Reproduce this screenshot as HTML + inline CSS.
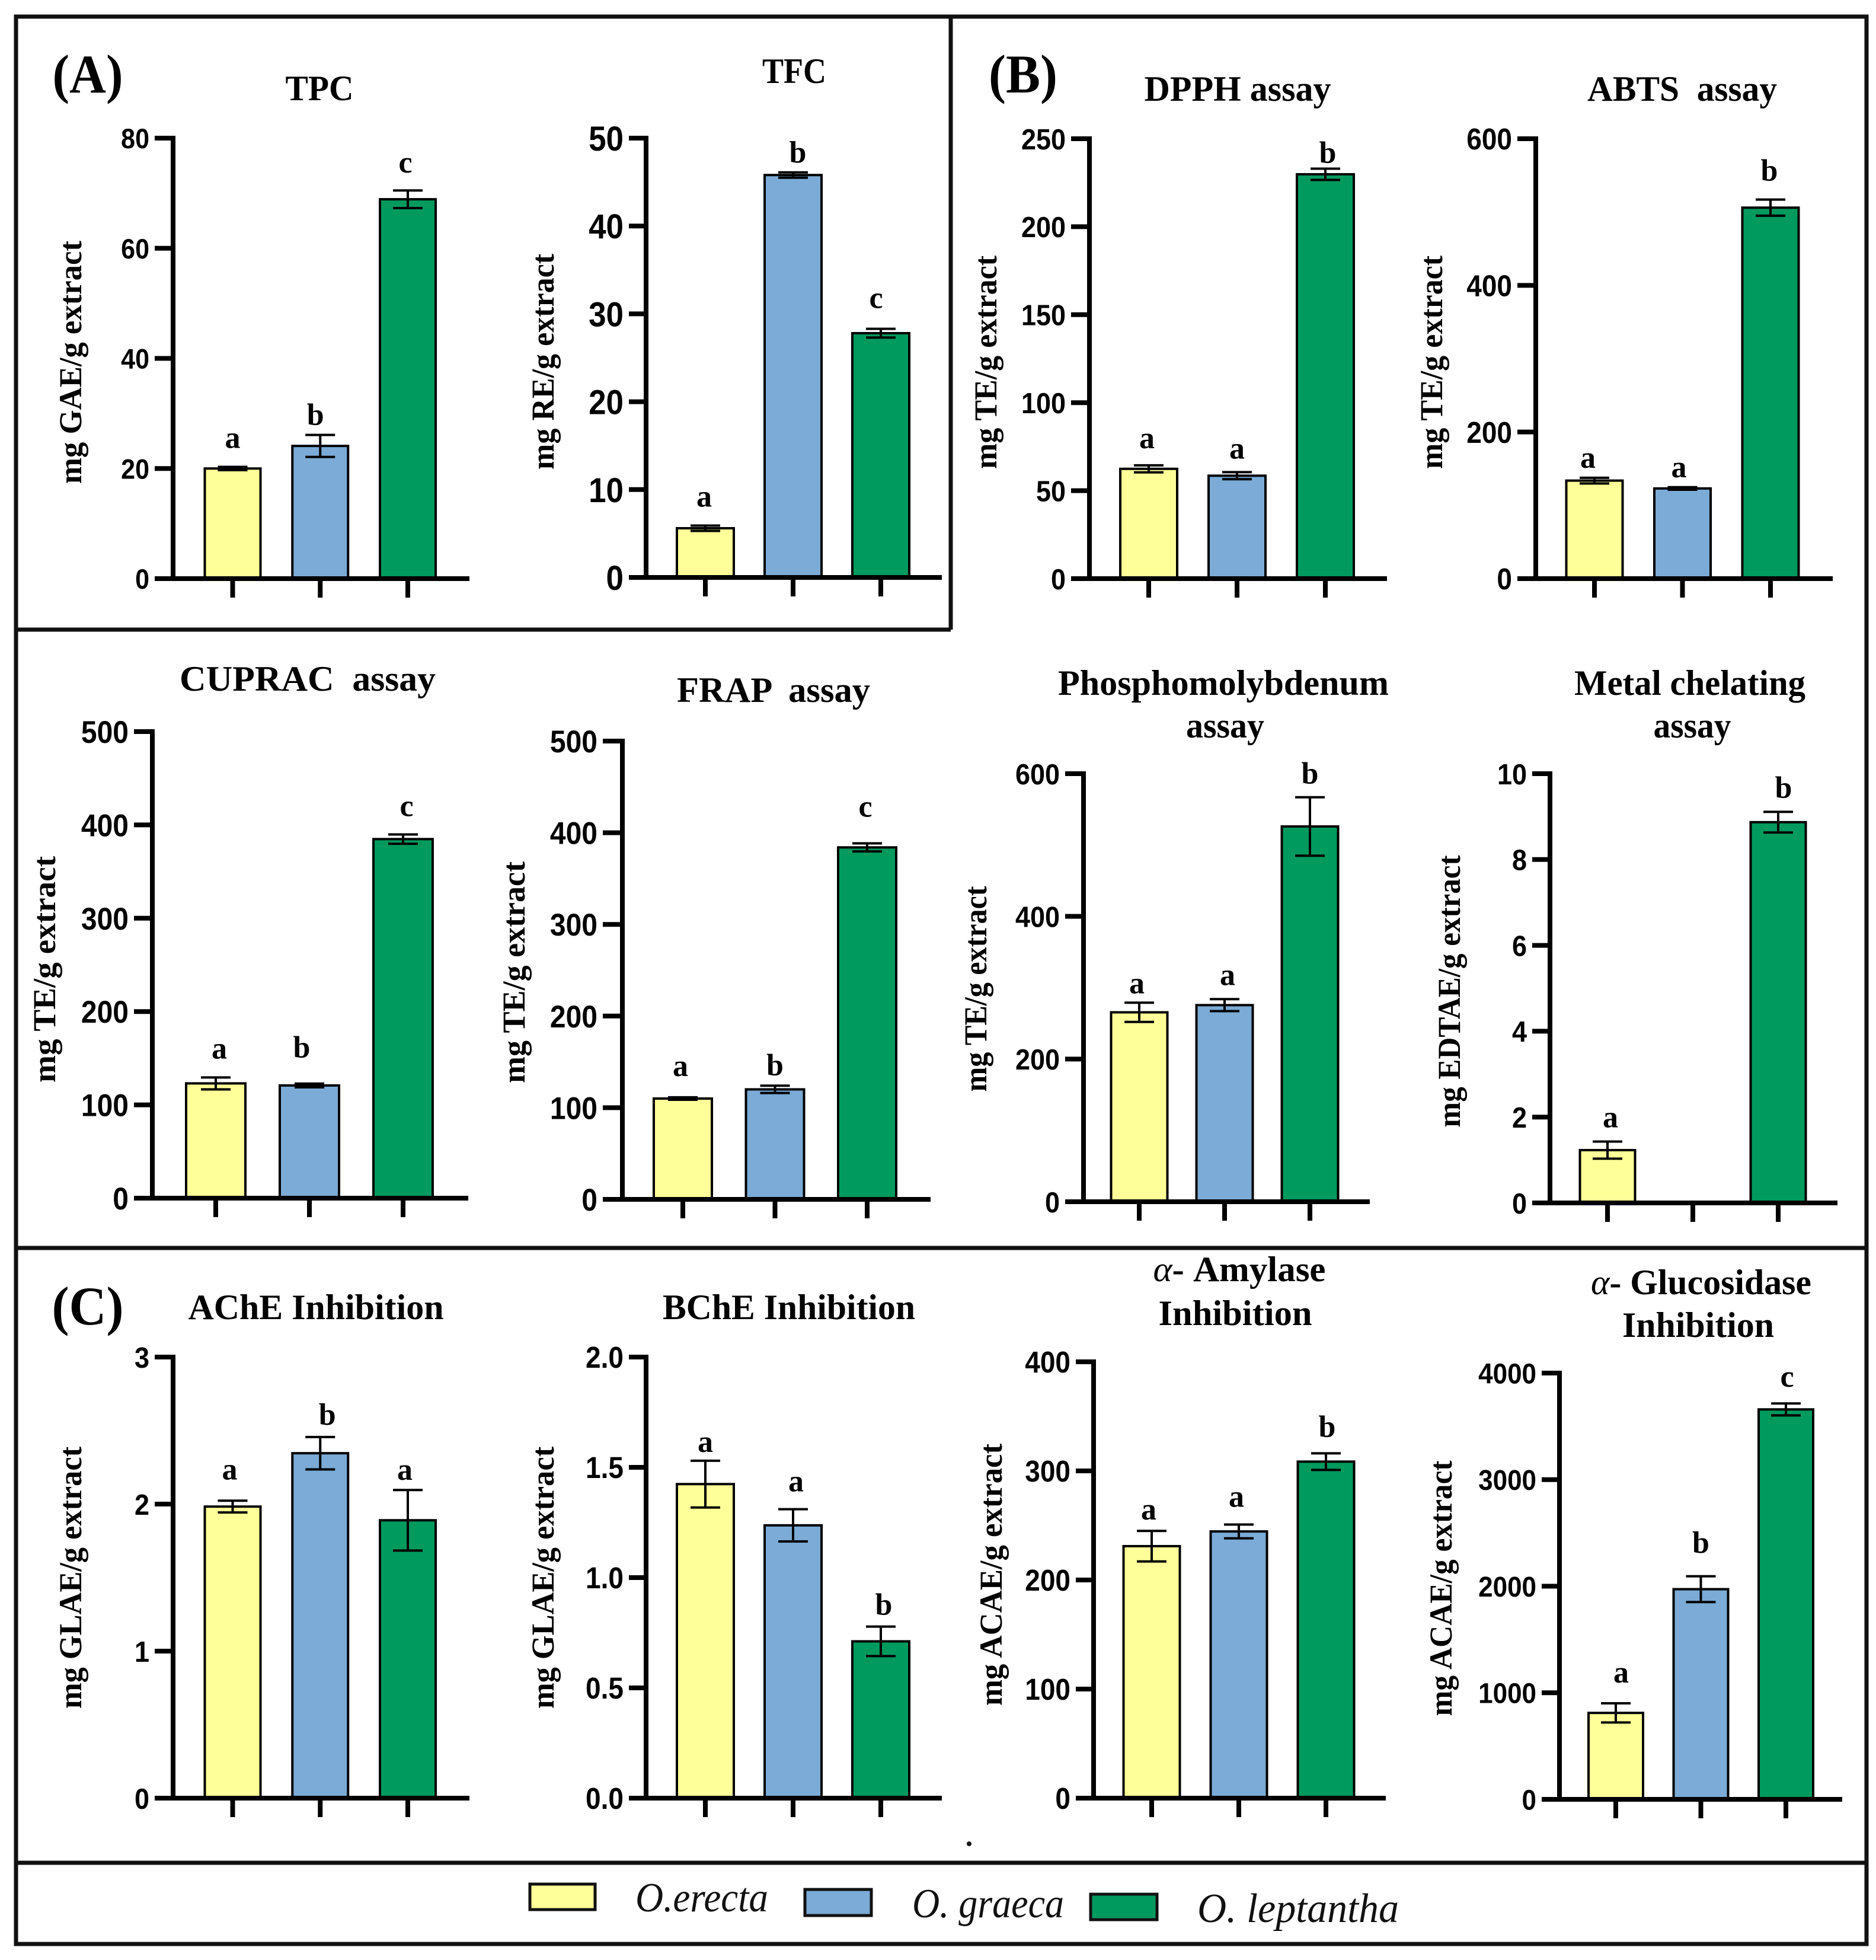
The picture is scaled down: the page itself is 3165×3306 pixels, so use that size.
<!DOCTYPE html>
<html lang="en">
<head>
<meta charset="utf-8">
<title>Antioxidant and enzyme inhibition bar charts</title>
<style>
html,body{margin:0;padding:0;background:#fff;}
svg{display:block;}
text{white-space:pre;fill:#000;}
.tick{font-family:"Liberation Sans",sans-serif;font-weight:bold;}
.serif{font-family:"Liberation Serif",serif;font-weight:bold;}
.legend{font-family:"Liberation Serif",serif;font-style:italic;font-size:70px;fill:#111;}
</style>
</head>
<body>
<svg id="figure" xmlns="http://www.w3.org/2000/svg" width="3165" height="3306" viewBox="0 0 3165 3306">
  <rect x="0" y="0" width="3165" height="3306" fill="#fff"/>
  <g stroke="#111" stroke-width="7" fill="none">
    <rect x="27" y="28" width="3122" height="3251"/>
    <line x1="1604" y1="28" x2="1604" y2="1062"/>
    <line x1="27" y1="1062" x2="1604" y2="1062"/>
    <line x1="27" y1="2105" x2="3149" y2="2105"/>
    <line x1="27" y1="3142" x2="3149" y2="3142"/>
  </g>
  <text class="serif" x="148" y="156" font-size="92" text-anchor="middle" textLength="119" lengthAdjust="spacingAndGlyphs">(A)</text>
  <text class="serif" x="1726" y="156" font-size="92" text-anchor="middle" textLength="116" lengthAdjust="spacingAndGlyphs">(B)</text>
  <text class="serif" x="148" y="2234" font-size="92" text-anchor="middle" textLength="121" lengthAdjust="spacingAndGlyphs">(C)</text>
  <circle cx="1635" cy="3110" r="4" fill="#111"/>
  <g id="charts"></g>
  <g>
    <g>
      <rect x="894" y="3178" width="110" height="43" fill="#FFFF99" stroke="#111" stroke-width="5"/>
      <text class="legend" x="1072" y="3224" textLength="224" lengthAdjust="spacingAndGlyphs">O.erecta</text>
    </g>
    <g>
      <rect x="1358" y="3187" width="112" height="44" fill="#7BABD6" stroke="#111" stroke-width="5"/>
      <text class="legend" x="1539" y="3234" textLength="256" lengthAdjust="spacingAndGlyphs">O. graeca</text>
    </g>
    <g>
      <rect x="1840" y="3195" width="112" height="43" fill="#009A5E" stroke="#111" stroke-width="5"/>
      <text class="legend" x="2020" y="3242" textLength="340" lengthAdjust="spacingAndGlyphs">O. leptantha</text>
    </g>
  </g>
</svg>
<script>
const species = ['O.erecta', 'O. graeca', 'O. leptantha'];

const tpcValues = [20, 24.1, 68.9];
const tpcErrors = [0.3, 2, 1.6];
const tpcLetters = ['a', 'b', 'c'];
const tpcTicks = ['0', '20', '40', '60', '80'];

const tfcValues = [5.6, 45.8, 27.8];
const tfcErrors = [0.3, 0.3, 0.5];
const tfcLetters = ['a', 'b', 'c'];
const tfcTicks = ['0', '10', '20', '30', '40', '50'];

const dpphValues = [62.4, 58.5, 229.8];
const dpphErrors = [2, 2, 3.2];
const dpphLetters = ['a', 'a', 'b'];
const dpphTicks = ['0', '50', '100', '150', '200', '250'];

const abtsValues = [133.7, 123, 506];
const abtsErrors = [3.9, 1.7, 11];
const abtsLetters = ['a', 'a', 'b'];
const abtsTicks = ['0', '200', '400', '600'];

const cupracValues = [123, 120.8, 384.8];
const cupracErrors = [6.4, 2, 5];
const cupracLetters = ['a', 'b', 'c'];
const cupracTicks = ['0', '100', '200', '300', '400', '500'];

const frapValues = [110, 120, 384];
const frapErrors = [1.3, 4, 4.4];
const frapLetters = ['a', 'b', 'c'];
const frapTicks = ['0', '100', '200', '300', '400', '500'];

const phosphoValues = [265.5, 275.6, 526];
const phosphoErrors = [13.5, 8.4, 41];
const phosphoLetters = ['a', 'a', 'b'];
const phosphoTicks = ['0', '200', '400', '600'];

const metalValues = [1.23, 0, 8.87];
const metalErrors = [0.2, 0, 0.24];
const metalLetters = ['a', '', 'b'];
const metalTicks = ['0', '2', '4', '6', '8', '10'];

const acheValues = [1.983, 2.346, 1.89];
const acheErrors = [0.04, 0.11, 0.206];
const acheLetters = ['a', 'b', 'a'];
const acheTicks = ['0', '1', '2', '3'];

const bcheValues = [1.424, 1.237, 0.711];
const bcheErrors = [0.106, 0.073, 0.067];
const bcheLetters = ['a', 'a', 'b'];
const bcheTicks = ['0.0', '0.5', '1.0', '1.5', '2.0'];

const amylaseValues = [231, 244.5, 308.5];
const amylaseErrors = [14, 6.3, 7.6];
const amylaseLetters = ['a', 'a', 'b'];
const amylaseTicks = ['0', '100', '200', '300', '400'];

const glucoValues = [811, 1972, 3659];
const glucoErrors = [90, 121, 56];
const glucoLetters = ['a', 'b', 'c'];
const glucoTicks = ['0', '1000', '2000', '3000', '4000'];

const barColors = ['#FFFF99', '#7BABD6', '#009A5E'];

const charts = [
  {id:'tpc', values:tpcValues, errors:tpcErrors, letters:tpcLetters, ticks:tpcTicks,
   ax:292, top:233, base:976, left:261, end:792, c0:392.5, step:147.75, bw:94, ts:43,
   ylabel:'mg GAE/g extract', ylx:137, yly:611, yll:410,
   titles:[{t:'TPC', x:539, y:169, l:115}], nudge:[[0,32],[-8,17],[-4,30]]},
  {id:'tfc', values:tfcValues, errors:tfcErrors, letters:tfcLetters, ticks:tfcTicks,
   ax:1090, top:233, base:974, left:1061, end:1589, c0:1190, step:148, bw:96, ts:53,
   ylabel:'mg RE/g extract', ylx:934, yly:610, yll:364,
   titles:[{t:'TFC', x:1340, y:140, l:108}], nudge:[[-2,32],[8,17],[-8,35]]},
  {id:'dpph', values:dpphValues, errors:dpphErrors, letters:dpphLetters, ticks:dpphTicks,
   ax:1838, top:234, base:976, left:1807, end:2340, c0:1938, step:149, bw:96, ts:45,
   ylabel:'mg TE/g extract', ylx:1681, yly:611, yll:360,
   titles:[{t:'DPPH assay', x:2088, y:170, l:315}], nudge:[[-3,29],[0,23],[4,10]]},
  {id:'abts', values:abtsValues, errors:abtsErrors, letters:abtsLetters, ticks:abtsTicks,
   ax:2591, top:234, base:976, left:2560, end:3092, c0:2690, step:148.5, bw:95, ts:46,
   ylabel:'mg TE/g extract', ylx:2433, yly:611, yll:360,
   titles:[{t:'ABTS  assay', x:2838, y:170, l:320}], nudge:[[-11,17],[-6,17],[-2,32]]},
  {id:'cuprac', values:cupracValues, errors:cupracErrors, letters:cupracLetters, ticks:cupracTicks,
   ax:257, top:1234, base:2021, left:226, end:790, c0:364, step:158, bw:100, ts:48,
   ylabel:'mg TE/g extract', ylx:93, yly:1635, yll:382,
   titles:[{t:'CUPRAC  assay', x:519, y:1165, l:432}], nudge:[[6,32],[-13,44],[6,31]]},
  {id:'frap', values:frapValues, errors:frapErrors, letters:frapLetters, ticks:frapTicks,
   ax:1050, top:1250, base:2023, left:1017, end:1570, c0:1152, step:155.5, bw:98, ts:48,
   ylabel:'mg TE/g extract', ylx:885, yly:1640, yll:374,
   titles:[{t:'FRAP  assay', x:1305, y:1184, l:326}], nudge:[[-4,36],[0,18],[-3,45]]},
  {id:'phosphomolybdenum', values:phosphoValues, errors:phosphoErrors, letters:phosphoLetters, ticks:phosphoTicks,
   ax:1828, top:1305, base:2027, left:1797, end:2311, c0:1922, step:144, bw:95, ts:45,
   ylabel:'mg TE/g extract', ylx:1664, yly:1668, yll:347,
   titles:[{t:'Phosphomolybdenum', x:2064, y:1172, l:558},{t:'assay', x:2067, y:1244, l:132}], nudge:[[-4,16],[5,24],[0,23]]},
  {id:'metal-chelating', values:metalValues, errors:metalErrors, letters:metalLetters, ticks:metalTicks,
   ax:2615, top:1305, base:2029, left:2585, end:3100, c0:2712, step:144, bw:93, ts:45,
   ylabel:'mg EDTAE/g extract', ylx:2463, yly:1672, yll:459,
   titles:[{t:'Metal chelating', x:2851, y:1172, l:390},{t:'assay', x:2855, y:1244, l:131}], nudge:[[5,24],[0,24],[9,24]]},
  {id:'ache', values:acheValues, errors:acheErrors, letters:acheLetters, ticks:acheTicks,
   ax:292, top:2289, base:3033, left:261, end:792, c0:392.5, step:147.75, bw:94, ts:45,
   ylabel:'mg GLAE/g extract', ylx:137, yly:2661, yll:442,
   titles:[{t:'AChE Inhibition', x:533, y:2225, l:431}], nudge:[[-5,36],[12,21],[-5,17]]},
  {id:'bche', values:bcheValues, errors:bcheErrors, letters:bcheLetters, ticks:bcheTicks,
   ax:1090, top:2289, base:3033, left:1061, end:1589, c0:1190, step:148, bw:96, ts:46,
   ylabel:'mg GLAE/g extract', ylx:934, yly:2661, yll:442,
   titles:[{t:'BChE Inhibition', x:1331, y:2225, l:426}], nudge:[[0,15],[5,30],[5,20]]},
  {id:'amylase', values:amylaseValues, errors:amylaseErrors, letters:amylaseLetters, ticks:amylaseTicks,
   ax:1845, top:2297, base:3033, left:1815, end:2338, c0:1943, step:147, bw:95, ts:46,
   ylabel:'mg ACAE/g extract', ylx:1690, yly:2656, yll:442,
   titles:[{t:'- Amylase', alpha:true, x:2091, y:2161, l:291},{t:'Inhibition', x:2084, y:2235, l:259}], nudge:[[-5,19],[-4,30],[2,28]]},
  {id:'glucosidase', values:glucoValues, errors:glucoErrors, letters:glucoLetters, ticks:glucoTicks,
   ax:2631, top:2316, base:3035, left:2601, end:3108, c0:2726, step:143.5, bw:92, ts:44,
   ylabel:'mg ACAE/g extract', ylx:2449, yly:2679, yll:431,
   titles:[{t:'- Glucosidase', alpha:true, x:2870, y:2183, l:372},{t:'Inhibition', x:2865, y:2255, l:256}], nudge:[[9,35],[0,40],[2,28]]}
];

const NS = 'http://www.w3.org/2000/svg';
const root = document.getElementById('charts');

function svgEl(tag, parent) {
  const el = document.createElementNS(NS, tag);
  parent.appendChild(el);
  return el;
}
function setLine(el, x1, y1, x2, y2, w) {
  el.setAttribute('x1', x1);
  el.setAttribute('y1', y1);
  el.setAttribute('x2', x2);
  el.setAttribute('y2', y2);
  el.setAttribute('stroke', '#000');
  el.setAttribute('stroke-width', w);
}
function tickWidth(label, size) {
  let w = 0;
  for (const ch of label) {
    w += ch === '.' ? 0.278 : 0.556;
  }
  return w * size;
}

charts.forEach(function (ch) {
  const yMax = parseFloat(ch.ticks[ch.ticks.length - 1]);
  const yScale = function (v) { return ch.base - (v / yMax) * (ch.base - ch.top); };
  const xScale = function (i) { return ch.c0 + i * ch.step; };

  const g = svgEl('g', root);
  
  

  ch.titles.forEach(function (tt, ti) {
    const t = svgEl('text', g);
    
    
    t.setAttribute('class', 'serif');
    t.setAttribute('x', tt.x);
    t.setAttribute('y', tt.y);
    t.setAttribute('font-size', 60);
    t.setAttribute('text-anchor', 'middle');
    t.setAttribute('textLength', tt.l);
    t.setAttribute('lengthAdjust', 'spacingAndGlyphs');
    if (tt.alpha) {
      const a = svgEl('tspan', t);
      a.setAttribute('font-style', 'italic');
      a.setAttribute('font-weight', 'normal');
      a.textContent = 'α';
    }
    t.appendChild(document.createTextNode(tt.t));
  });

  const yl = svgEl('text', g);
  
  
  yl.setAttribute('class', 'serif');
  yl.setAttribute('x', ch.ylx);
  yl.setAttribute('y', ch.yly);
  yl.setAttribute('font-size', 54);
  yl.setAttribute('text-anchor', 'middle');
  yl.setAttribute('textLength', ch.yll);
  yl.setAttribute('lengthAdjust', 'spacingAndGlyphs');
  yl.setAttribute('transform', 'rotate(-90 ' + ch.ylx + ' ' + ch.yly + ')');
  yl.textContent = ch.ylabel;

  species.forEach(function (sp, i) {
    const v = ch.values[i];
    const e = ch.errors[i];
    const x = xScale(i);
    const y = yScale(v);
    if (v > 0) {
      const bar = svgEl('rect', g);
      
      
      bar.setAttribute('x', x - ch.bw / 2);
      bar.setAttribute('y', y);
      bar.setAttribute('width', ch.bw);
      bar.setAttribute('height', ch.base - y);
      bar.setAttribute('fill', barColors[i]);
      bar.setAttribute('stroke', '#000');
      bar.setAttribute('stroke-width', 4);

      const stem = svgEl('line', g);
      
      
      setLine(stem, x, yScale(v + e), x, yScale(v - e), 4);

      const capTop = svgEl('line', g);
      
      
      setLine(capTop, x - 25, yScale(v + e), x + 25, yScale(v + e), 4);

      const capBot = svgEl('line', g);
      
      
      setLine(capBot, x - 25, yScale(v - e), x + 25, yScale(v - e), 4);
    }
    if (ch.letters[i]) {
      const lt = svgEl('text', g);
      
      
      lt.setAttribute('class', 'serif');
      lt.setAttribute('x', x + ch.nudge[i][0]);
      lt.setAttribute('y', yScale(v + e) - ch.nudge[i][1]);
      lt.setAttribute('font-size', 52);
      lt.setAttribute('text-anchor', 'middle');
      lt.textContent = ch.letters[i];
    }
    const xt = svgEl('line', g);
    
    
    setLine(xt, x, ch.base, x, ch.base + 32, 8);
  });

  const yAxis = svgEl('line', g);
  
  
  setLine(yAxis, ch.ax, ch.top - 4, ch.ax, ch.base, 8);

  const xAxis = svgEl('line', g);
  
  
  setLine(xAxis, ch.left, ch.base, ch.end, ch.base, 8);

  ch.ticks.forEach(function (label) {
    const ty = yScale(parseFloat(label));
    const tk = svgEl('line', g);
    
    
    setLine(tk, ch.left, ty, ch.ax, ty, 8);

    const size = ch.ts * 1.1;
    const tl = svgEl('text', g);
    
    
    tl.setAttribute('class', 'tick');
    tl.setAttribute('x', ch.left - 9);
    tl.setAttribute('y', ty + size * 0.36);
    tl.setAttribute('font-size', size);
    tl.setAttribute('text-anchor', 'end');
    tl.setAttribute('textLength', tickWidth(label, ch.ts));
    tl.setAttribute('lengthAdjust', 'spacingAndGlyphs');
    tl.textContent = label;
  });
});
</script>
</body>
</html>
